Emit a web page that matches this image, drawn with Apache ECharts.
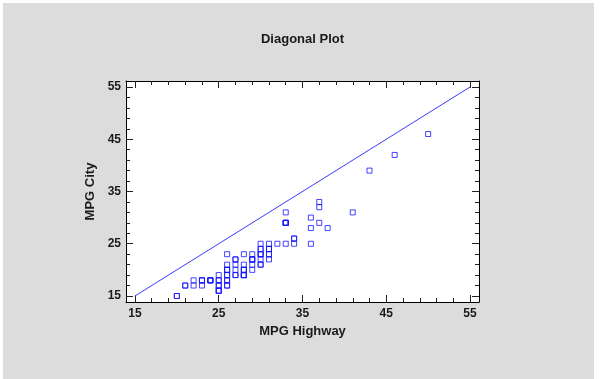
<!DOCTYPE html>
<html>
<head>
<meta charset="utf-8">
<script src="https://cdn.jsdelivr.net/npm/echarts@6/dist/echarts.min.js"></script>
<style>
html,body{margin:0;padding:0;background:#ffffff;}
#panel{position:absolute;left:3px;top:3px;width:591px;height:376px;background:#dcdcdc;}
#chart{position:absolute;left:0;top:0;width:605px;height:379px;}
</style>
</head>
<body>
<div id="panel"></div>
<div id="chart"></div>
<script>
// MPG Highway (x) and MPG City (y)
const mpgHighway = [31,25,26,26,30,31,28,25,27,25,25,36,34,28,29,23,20,26,25,28,28,26,33,29,27,21,27,24,33,28,33,30,27,29,30,20,30,26,50,36,31,46,31,33,29,34,27,22,24,23,26,26,37,36,34,24,25,29,25,26,26,33,24,33,30,23,26,31,31,23,28,30,41,31,28,27,28,26,38,37,30,30,43,37,32,29,22,33,21,30,25,28,28];
const mpgCity    = [25,18,20,19,22,22,19,16,19,16,16,25,25,19,21,18,15,17,17,20,23,20,29,23,22,17,21,18,29,20,31,23,22,22,24,15,21,18,46,30,24,42,24,29,22,26,20,17,18,18,17,18,29,28,26,18,17,20,19,23,19,29,18,29,24,17,21,24,23,18,19,23,31,23,19,19,19,20,28,33,25,23,39,32,25,22,18,25,17,21,18,21,20];
const diagonal = [15, 55];
const majorTicks = [15, 25, 35, 45, 55];
const minorTicks = [17, 19, 21, 23, 27, 29, 31, 33, 37, 39, 41, 43, 47, 49, 51, 53];

const xMin = 13.93, xMax = 56.07, yMin = 13.85, yMax = 56.15;
const labelFont = {fontFamily: 'Liberation Sans, Arial, sans-serif', fontWeight: 'bold', fontSize: 12, color: '#1a1a1a'};
const nameFont = {fontFamily: 'Liberation Sans, Arial, sans-serif', fontWeight: 'bold', fontSize: 13, color: '#1a1a1a'};

function axisSet(pos, isX) {
  const base = {type: 'value', min: isX ? xMin : yMin, max: isX ? xMax : yMax, position: pos, splitLine: {show: false}};
  const major = Object.assign({}, base, {
    axisLine: {show: true, onZero: false, lineStyle: {color: '#000', width: 1}},
    axisTick: {show: true, inside: true, length: 7, customValues: majorTicks, lineStyle: {color: '#222'}},
    axisLabel: {show: false}
  });
  const minor = Object.assign({}, base, {
    axisLine: {show: false},
    axisTick: {show: true, inside: true, length: 4, customValues: minorTicks, lineStyle: {color: '#222'}},
    axisLabel: {show: false}
  });
  return [major, minor];
}

const xs = [...axisSet('bottom', true), ...axisSet('top', true)];
const ys = [...axisSet('left', false), ...axisSet('right', false)];
xs[0].axisLabel = Object.assign({show: true, customValues: majorTicks, margin: 6}, labelFont);
xs[0].name = 'MPG Highway';
xs[0].nameLocation = 'middle';
xs[0].nameGap = 21;
xs[0].nameTextStyle = Object.assign({}, nameFont);
ys[0].axisLabel = Object.assign({show: true, customValues: majorTicks, margin: 5}, labelFont);
ys[0].name = 'MPG City';
ys[0].nameLocation = 'middle';
ys[0].nameGap = 24;
ys[0].nameTextStyle = Object.assign({}, nameFont);

const chart = echarts.init(document.getElementById('chart'));
chart.setOption({
  backgroundColor: 'transparent',
  animation: false,
  title: {text: 'Diagonal Plot', left: 'center', top: 28, textStyle: Object.assign({}, nameFont)},
  grid: {left: 126, top: 81, width: 353, height: 221, show: true, backgroundColor: '#ffffff', borderWidth: 0},
  xAxis: xs,
  yAxis: ys,
  series: [
    {type: 'line', xAxisIndex: 0, yAxisIndex: 0, data: diagonal.map(v => [v, v]), symbol: 'none',
     lineStyle: {color: '#3a3aff', width: 1}, silent: true},
    {type: 'scatter', xAxisIndex: 0, yAxisIndex: 0, data: mpgHighway.map((h, i) => [h, mpgCity[i]]),
     symbol: 'rect', symbolSize: 5, itemStyle: {color: 'rgba(255,255,255,0)', borderColor: '#1515ff', borderWidth: 1}}
  ]
});
</script>
</body>
</html>
